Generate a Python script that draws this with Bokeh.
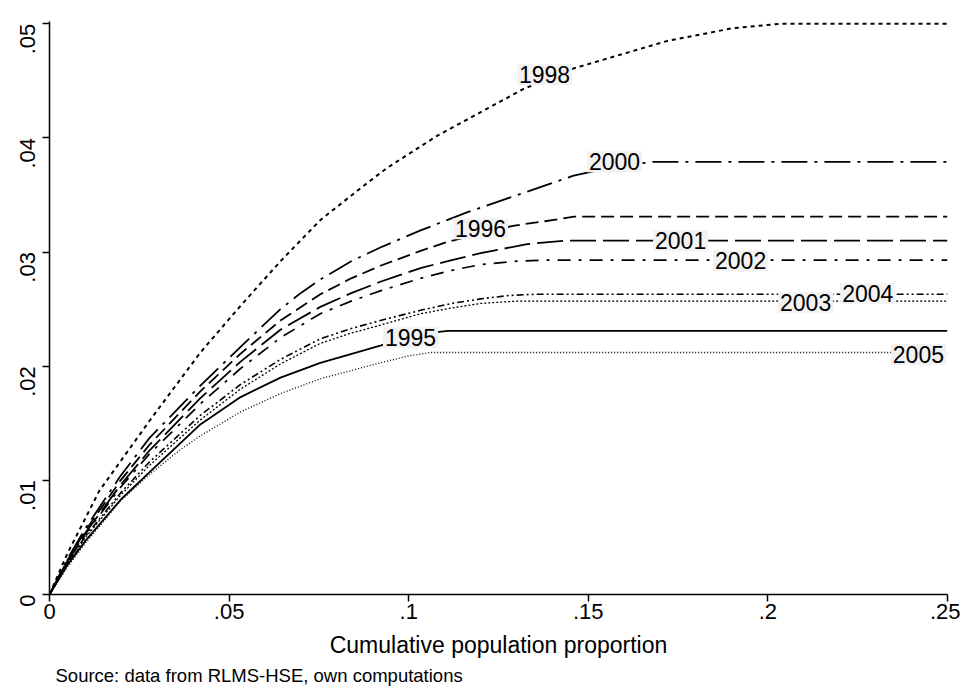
import math
from bokeh.plotting import figure
from bokeh.models import FixedTicker, Label, Range1d, Title
from bokeh.embed import file_html
from bokeh.resources import INLINE

# ---------------- data ----------------
x_ticks = [0, 0.05, 0.1, 0.15, 0.2, 0.25]
x_tick_labels = ["0", ".05", ".1", ".15", ".2", ".25"]
y_ticks = [0, 0.01, 0.02, 0.03, 0.04, 0.05]
y_tick_labels = ["0", ".01", ".02", ".03", ".04", ".05"]

years = ["1995", "1996", "1998", "2000", "2001", "2002", "2003", "2004", "2005"]

x_1998 = [0, 0.005, 0.0139, 0.0278, 0.042, 0.0532, 0.0643, 0.0754, 0.0866, 0.0941, 0.108, 0.132, 0.146, 0.172, 0.19, 0.2035, 0.25]
y_1998 = [0, 0.0036, 0.0091, 0.0152, 0.0212, 0.0253, 0.0292, 0.0328, 0.0356, 0.0374, 0.0402, 0.0443, 0.0461, 0.0485, 0.0496, 0.0500, 0.0500]

x_2000 = [0, 0.005, 0.01, 0.0198, 0.0278, 0.042, 0.0532, 0.0643, 0.0699, 0.0754, 0.084, 0.0921, 0.1033, 0.1164, 0.1459, 0.158, 0.168, 0.25]
y_2000 = [0, 0.0031, 0.0058, 0.0104, 0.0137, 0.0183, 0.0217, 0.0250, 0.0264, 0.0276, 0.0292, 0.0304, 0.0319, 0.0335, 0.0367, 0.0375, 0.0379, 0.0379]

x_1996 = [0, 0.005, 0.01, 0.0198, 0.0278, 0.042, 0.0532, 0.0643, 0.0754, 0.084, 0.0921, 0.1033, 0.1108, 0.12, 0.129, 0.14, 0.146, 0.25]
y_1996 = [0, 0.0030, 0.0056, 0.0100, 0.0131, 0.0178, 0.0211, 0.0240, 0.0263, 0.0277, 0.0288, 0.0301, 0.0309, 0.0316, 0.0323, 0.0328, 0.0331, 0.0331]

x_2001 = [0, 0.005, 0.01, 0.0198, 0.0278, 0.042, 0.0532, 0.0643, 0.0754, 0.084, 0.0921, 0.1033, 0.112, 0.12, 0.133, 0.144, 0.25]
y_2001 = [0, 0.0029, 0.0054, 0.0096, 0.0126, 0.0172, 0.0204, 0.0232, 0.0252, 0.0264, 0.0274, 0.0286, 0.0293, 0.0299, 0.0307, 0.0310, 0.0310]

x_2002 = [0, 0.005, 0.01, 0.0198, 0.0278, 0.042, 0.0532, 0.0643, 0.0754, 0.084, 0.0921, 0.1033, 0.112, 0.12, 0.13, 0.139, 0.25]
y_2002 = [0, 0.0029, 0.0053, 0.0094, 0.0123, 0.0167, 0.0198, 0.0225, 0.0246, 0.0257, 0.0266, 0.0277, 0.0284, 0.0289, 0.0292, 0.0293, 0.0293]

x_2004 = [0, 0.005, 0.01, 0.0198, 0.0278, 0.042, 0.0532, 0.0643, 0.0754, 0.084, 0.0921, 0.1033, 0.112, 0.12, 0.128, 0.135, 0.25]
y_2004 = [0, 0.0028, 0.0051, 0.0089, 0.0116, 0.0157, 0.0184, 0.0206, 0.0224, 0.0233, 0.0240, 0.0249, 0.0255, 0.0259, 0.0262, 0.0263, 0.0263]

x_2003 = [0, 0.005, 0.01, 0.0198, 0.0278, 0.042, 0.0532, 0.0643, 0.0754, 0.084, 0.0921, 0.1033, 0.112, 0.12, 0.13, 0.25]
y_2003 = [0, 0.0027, 0.0050, 0.0087, 0.0113, 0.0153, 0.0180, 0.0202, 0.0220, 0.0229, 0.0236, 0.0246, 0.0251, 0.0255, 0.0257, 0.0257]

x_1995 = [0, 0.005, 0.01, 0.0198, 0.0278, 0.042, 0.0532, 0.0643, 0.0754, 0.0921, 0.1, 0.105, 0.111, 0.25]
y_1995 = [0, 0.0026, 0.0047, 0.0083, 0.0107, 0.0149, 0.0173, 0.0190, 0.0203, 0.0218, 0.0226, 0.0229, 0.0231, 0.0231]

x_2005 = [0, 0.005, 0.01, 0.0198, 0.0278, 0.0365, 0.042, 0.0532, 0.0643, 0.0754, 0.0921, 0.1, 0.106, 0.25]
y_2005 = [0, 0.0024, 0.0045, 0.0082, 0.0105, 0.0127, 0.0139, 0.0160, 0.0176, 0.0189, 0.0203, 0.0209, 0.0212, 0.0212]

series = {
    "1998": (x_1998, y_1998),
    "2000": (x_2000, y_2000),
    "1996": (x_1996, y_1996),
    "2001": (x_2001, y_2001),
    "2002": (x_2002, y_2002),
    "2004": (x_2004, y_2004),
    "2003": (x_2003, y_2003),
    "1995": (x_1995, y_1995),
    "2005": (x_2005, y_2005),
}

# ---------------- styles ----------------
line_styles = {
    "1998": ("4 4", 2.0),
    "2000": ("26 7 3 7", 1.8),
    "1996": ("13 6", 1.8),
    "2001": ("26 7", 1.8),
    "2002": ("13 8 3 8", 1.7),
    "2004": ("7 3 2 3 2 3", 1.6),
    "2003": ("2 2", 1.3),
    "1995": ("solid", 1.9),
    "2005": ("1 2", 1.3),
}

label_pos = {
    "1998": (0.1378, 0.04553),
    "2000": (0.1573, 0.03792),
    "1996": (0.1200, 0.03205),
    "2001": (0.1757, 0.03100),
    "2002": (0.1924, 0.02925),
    "2003": (0.2105, 0.02557),
    "2004": (0.2278, 0.02636),
    "1995": (0.1005, 0.02250),
    "2005": (0.2419, 0.02102),
}

FONT = "Liberation Sans"

p = figure(width=960, height=690, output_backend="svg", toolbar_location=None,
           x_range=Range1d(0, 0.25), y_range=Range1d(0, 0.0502),
           min_border_left=49, min_border_right=13, min_border_top=21, min_border_bottom=96)
p.background_fill_color = "white"
p.border_fill_color = "white"
p.outline_line_color = None
p.xgrid.visible = False
p.ygrid.visible = False

for yr, (xs, ys) in series.items():
    dash, w = line_styles[yr]
    p.line(xs, ys, line_color="black", line_width=w, line_dash=dash, line_join="round")

for yr, (lx, ly) in label_pos.items():
    p.add_layout(Label(x=lx, y=ly, text=yr, text_align="center", text_baseline="middle",
                       text_font=FONT, text_font_size="23px", text_color="black",
                       background_fill_color="#f2f2f2", background_fill_alpha=1.0,
                       padding=2))

# axes
for ax in (p.xaxis[0], p.yaxis[0]):
    ax.axis_line_color = "black"
    ax.axis_line_width = 1.5
    ax.major_tick_line_color = "black"
    ax.major_tick_line_width = 1.5
    ax.major_tick_out = 7
    ax.major_tick_in = 0
    ax.minor_tick_line_color = None
    ax.major_label_text_font = FONT
    ax.major_label_text_font_size = "22px"
    ax.major_label_text_color = "black"

p.xaxis.ticker = FixedTicker(ticks=x_ticks)
p.xaxis.major_label_overrides = dict(zip(x_ticks, x_tick_labels))
p.yaxis.ticker = FixedTicker(ticks=y_ticks)
p.yaxis.major_label_overrides = dict(zip(y_ticks, y_tick_labels))
p.yaxis.major_label_orientation = math.pi / 2
p.xaxis.major_label_standoff = 2
p.yaxis.major_label_standoff = 15

p.xaxis.axis_label = "Cumulative population proportion"
p.xaxis.axis_label_text_font = FONT
p.xaxis.axis_label_text_font_size = "23px"
p.xaxis.axis_label_text_font_style = "normal"
p.xaxis.axis_label_text_color = "black"
p.xaxis.axis_label_standoff = 10

src = Title(text="Source: data from RLMS-HSE, own computations", align="left",
            offset=6, standoff=4, text_font=FONT, text_font_size="18.5px",
            text_font_style="normal", text_color="black")
p.add_layout(src, "below")

open("out.html", "w").write(file_html(p, INLINE))
